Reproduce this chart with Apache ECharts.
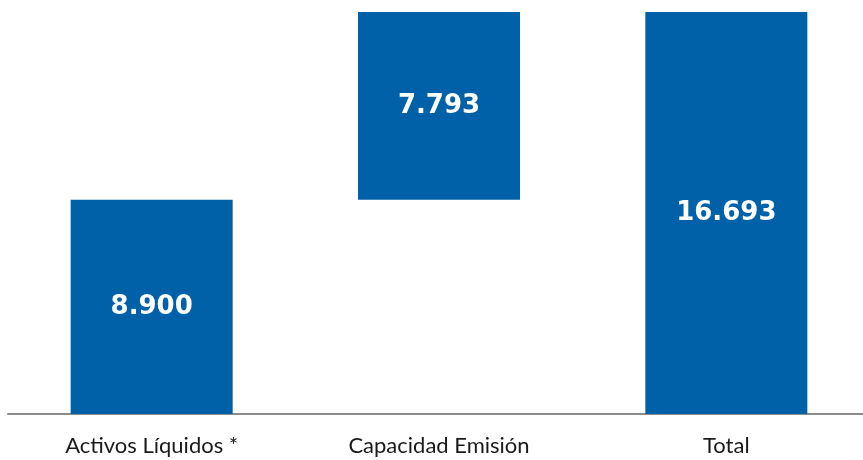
<!DOCTYPE html>
<html>
<head>
<meta charset="utf-8">
<script src="https://cdn.jsdelivr.net/npm/echarts@6/dist/echarts.min.js"></script>
<style>
html,body{margin:0;padding:0;background:#fff;overflow:hidden;}
#wrap{width:863px;height:460px;overflow:hidden;}
#c{width:870px;height:460px;}
</style>
</head>
<body>
<div id="wrap"><div id="c"></div></div>
<script>
var categories = ['Activos Líquidos *', 'Capacidad Emisión', 'Total'];
var baseValues = [0, 8900, 0];
var barValues = [8900, 7793, 16693];

function fmt(v) {
  return String(v).replace(/\B(?=(\d{3})+(?!\d))/g, '.');
}

var chart = echarts.init(document.getElementById('c'));
chart.setOption({
  animation: false,
  grid: { left: 8, right: 0, top: 12, bottom: 46 },
  xAxis: {
    type: 'category',
    data: categories,
    axisLine: { lineStyle: { color: '#8c8c8c', width: 2 } },
    axisTick: { show: false },
    axisLabel: { color: '#1a1a1a', fontSize: 22, fontFamily: 'Lato', margin: 21 }
  },
  yAxis: {
    type: 'value',
    min: 0,
    max: 16693,
    show: false,
    splitLine: { show: false }
  },
  series: [
    {
      type: 'bar',
      stack: 'w',
      data: baseValues,
      itemStyle: { color: 'transparent' },
      barWidth: 162,
      silent: true
    },
    {
      type: 'bar',
      stack: 'w',
      data: barValues,
      barWidth: 162,
      itemStyle: { color: '#0060a8' },
      label: {
        show: true,
        position: 'inside',
        color: '#ffffff',
        fontSize: 26,
        fontWeight: 'bold',
        fontFamily: 'DejaVu Sans',
        formatter: function (p) { return fmt(p.value); }
      }
    }
  ]
});
</script>
</body>
</html>
